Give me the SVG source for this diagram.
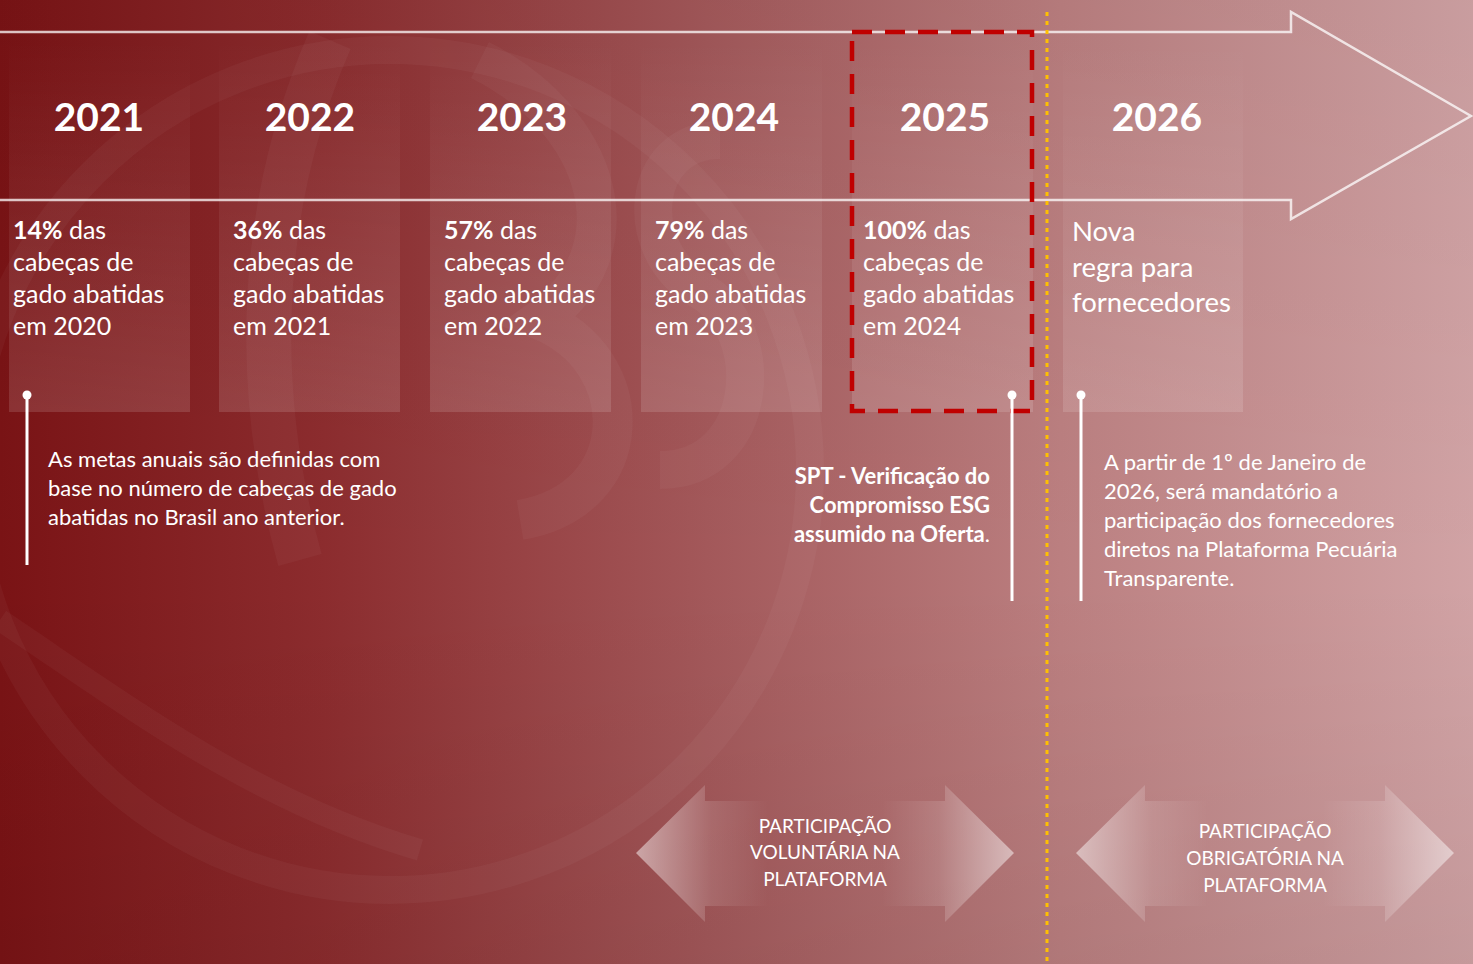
<svg xmlns="http://www.w3.org/2000/svg" width="1473" height="964" viewBox="0 0 1473 964">
<defs>
<linearGradient id="bg" x1="0" y1="0" x2="1" y2="0">
<stop offset="0" stop-color="#7a1315"/>
<stop offset="0.22" stop-color="#8c2c2e"/>
<stop offset="0.48" stop-color="#a3585a"/>
<stop offset="0.72" stop-color="#bb7f80"/>
<stop offset="1" stop-color="#d1a3a5"/>
</linearGradient>
<linearGradient id="shade" x1="0" y1="0" x2="0" y2="1">
<stop offset="0" stop-color="#000" stop-opacity="0.04"/>
<stop offset="0.6" stop-color="#000" stop-opacity="0"/>
<stop offset="1" stop-color="#000" stop-opacity="0.06"/>
</linearGradient>
<linearGradient id="col" x1="0" y1="0" x2="0" y2="1">
<stop offset="0" stop-color="#fff" stop-opacity="0"/>
<stop offset="0.45" stop-color="#fff" stop-opacity="0.06"/>
<stop offset="1" stop-color="#fff" stop-opacity="0.13"/>
</linearGradient>
<linearGradient id="dbl" x1="0" y1="0" x2="1" y2="0">
<stop offset="0" stop-color="#fff" stop-opacity="0.5"/>
<stop offset="0.2" stop-color="#fff" stop-opacity="0.12"/>
<stop offset="0.35" stop-color="#fff" stop-opacity="0"/>
<stop offset="0.65" stop-color="#fff" stop-opacity="0"/>
<stop offset="0.8" stop-color="#fff" stop-opacity="0.12"/>
<stop offset="1" stop-color="#fff" stop-opacity="0.5"/>
</linearGradient>
<style>
.yr{font-family:Lato,"Open Sans",sans-serif;font-weight:700;font-size:39px;fill:#fff;text-anchor:middle}
.bd{font-family:Lato,"Open Sans",sans-serif;font-size:25px;fill:#fff}
.b{font-weight:700}
.nt{font-family:Lato,"Open Sans",sans-serif;font-size:22px;fill:#fff}
.ar{font-family:Lato,"Open Sans",sans-serif;font-size:19px;fill:#fff;text-anchor:middle}
.pin{stroke:#fff;stroke-width:3}
.dot{fill:#fff}
</style>
</defs>

<!-- background -->
<rect width="1473" height="964" fill="url(#bg)"/>
<rect width="1473" height="964" fill="url(#shade)"/>
<g fill="none" stroke="#fff" stroke-opacity="0.035">
<ellipse cx="390" cy="470" rx="420" ry="420" stroke-width="28"/>
<path d="M330 40 C 260 200, 250 380, 300 560" stroke-width="45"/>
<path d="M480 60 C 600 120, 640 250, 540 320 C 640 360, 640 500, 520 520" stroke-width="40"/>
<path d="M720 140 C 640 140, 630 250, 700 290 C 770 330, 760 470, 660 470" stroke-width="38"/>
<path d="M0 620 C 120 700, 250 800, 420 850" stroke-width="22"/>
</g>

<!-- big arrow outline -->
<g id="timeline-arrow" fill="none" stroke="#fff" stroke-width="2.5" stroke-opacity="0.75">
<path d="M0 32 H1291 V12 L1471 116 L1291 219 V200 H0"/>
</g>

<!-- columns -->
<g id="col-2021">
<rect x="9" y="40" width="181" height="372" fill="url(#col)"/>
<text class="yr" x="99" y="131">2021</text>
<text class="bd"><tspan x="13" y="239"><tspan class="b">14%</tspan> das</tspan><tspan x="13" y="271">cabeças de</tspan><tspan x="13" y="303">gado abatidas</tspan><tspan x="13" y="335">em 2020</tspan></text>
</g>
<g id="col-2022">
<rect x="219" y="40" width="181" height="372" fill="url(#col)"/>
<text class="yr" x="310" y="131">2022</text>
<text class="bd"><tspan x="233" y="239"><tspan class="b">36%</tspan> das</tspan><tspan x="233" y="271">cabeças de</tspan><tspan x="233" y="303">gado abatidas</tspan><tspan x="233" y="335">em 2021</tspan></text>
</g>
<g id="col-2023">
<rect x="430" y="40" width="181" height="372" fill="url(#col)"/>
<text class="yr" x="522" y="131">2023</text>
<text class="bd"><tspan x="444" y="239"><tspan class="b">57%</tspan> das</tspan><tspan x="444" y="271">cabeças de</tspan><tspan x="444" y="303">gado abatidas</tspan><tspan x="444" y="335">em 2022</tspan></text>
</g>
<g id="col-2024">
<rect x="641" y="40" width="181" height="372" fill="url(#col)"/>
<text class="yr" x="734" y="131">2024</text>
<text class="bd"><tspan x="655" y="239"><tspan class="b">79%</tspan> das</tspan><tspan x="655" y="271">cabeças de</tspan><tspan x="655" y="303">gado abatidas</tspan><tspan x="655" y="335">em 2023</tspan></text>
</g>
<g id="col-2025">
<rect x="852" y="40" width="181" height="372" fill="url(#col)"/>
<text class="yr" x="945" y="131">2025</text>
<text class="bd"><tspan x="863" y="239"><tspan class="b">100%</tspan> das</tspan><tspan x="863" y="271">cabeças de</tspan><tspan x="863" y="303">gado abatidas</tspan><tspan x="863" y="335">em 2024</tspan></text>
</g>
<g id="col-2026">
<rect x="1063" y="40" width="180" height="372" fill="url(#col)"/>
<text class="yr" x="1157" y="131">2026</text>
<text class="bd" style="font-size:27.5px"><tspan x="1072" y="241">Nova</tspan><tspan x="1072" y="277">regra para</tspan><tspan x="1072" y="312">fornecedores</tspan></text>
</g>

<!-- highlight 2025 -->
<g id="highlight-2025">
<rect x="852" y="32" width="180" height="379" fill="none" stroke="#c00000" stroke-width="4.5" stroke-dasharray="20 13"/>
</g>

<!-- yellow divider -->
<g id="divider">
<line x1="1047" y1="12" x2="1047" y2="964" stroke="#ffc000" stroke-width="3" stroke-dasharray="4 5"/>
</g>

<!-- connectors (pins) -->
<g id="connectors">
<line class="pin" x1="27" y1="395" x2="27" y2="565"/>
<circle class="dot" cx="27" cy="395" r="4.5"/>
<line class="pin" x1="1012" y1="395" x2="1012" y2="601"/>
<circle class="dot" cx="1012" cy="395" r="4.5"/>
<line class="pin" x1="1081" y1="395" x2="1081" y2="601"/>
<circle class="dot" cx="1081" cy="395" r="4.5"/>
</g>

<!-- notes -->
<g id="note-metas">
<text class="nt"><tspan x="48" y="467">As metas anuais são definidas com</tspan><tspan x="48" y="496">base no número de cabeças de gado</tspan><tspan x="48" y="525">abatidas no Brasil ano anterior.</tspan></text>
</g>
<g id="note-spt">
<text class="nt" text-anchor="end"><tspan class="b" x="990" y="484">SPT - Verificação do</tspan><tspan class="b" x="990" y="513">Compromisso ESG</tspan><tspan x="990" y="542"><tspan class="b">assumido na Oferta</tspan>.</tspan></text>
</g>
<g id="note-2026">
<text class="nt"><tspan x="1104" y="470">A partir de 1º de Janeiro de</tspan><tspan x="1104" y="499">2026, será mandatório a</tspan><tspan x="1104" y="528">participação dos fornecedores</tspan><tspan x="1104" y="557">diretos na Plataforma Pecuária</tspan><tspan x="1104" y="586">Transparente.</tspan></text>
</g>

<!-- bottom double arrows -->
<g id="arrow-voluntaria">
<path d="M636 853 L705 785 V801 H945 V785 L1014 853 L945 922 V906 H705 V922 Z" fill="url(#dbl)"/>
<text class="ar"><tspan x="825" y="833">PARTICIPAÇÃO</tspan><tspan x="825" y="859">VOLUNTÁRIA NA</tspan><tspan x="825" y="886">PLATAFORMA</tspan></text>
</g>
<g id="arrow-obrigatoria">
<path d="M1076 853 L1145 785 V801 H1385 V785 L1454 853 L1385 922 V906 H1145 V922 Z" fill="url(#dbl)"/>
<text class="ar"><tspan x="1265" y="838">PARTICIPAÇÃO</tspan><tspan x="1265" y="865">OBRIGATÓRIA NA</tspan><tspan x="1265" y="892">PLATAFORMA</tspan></text>
</g>
</svg>
